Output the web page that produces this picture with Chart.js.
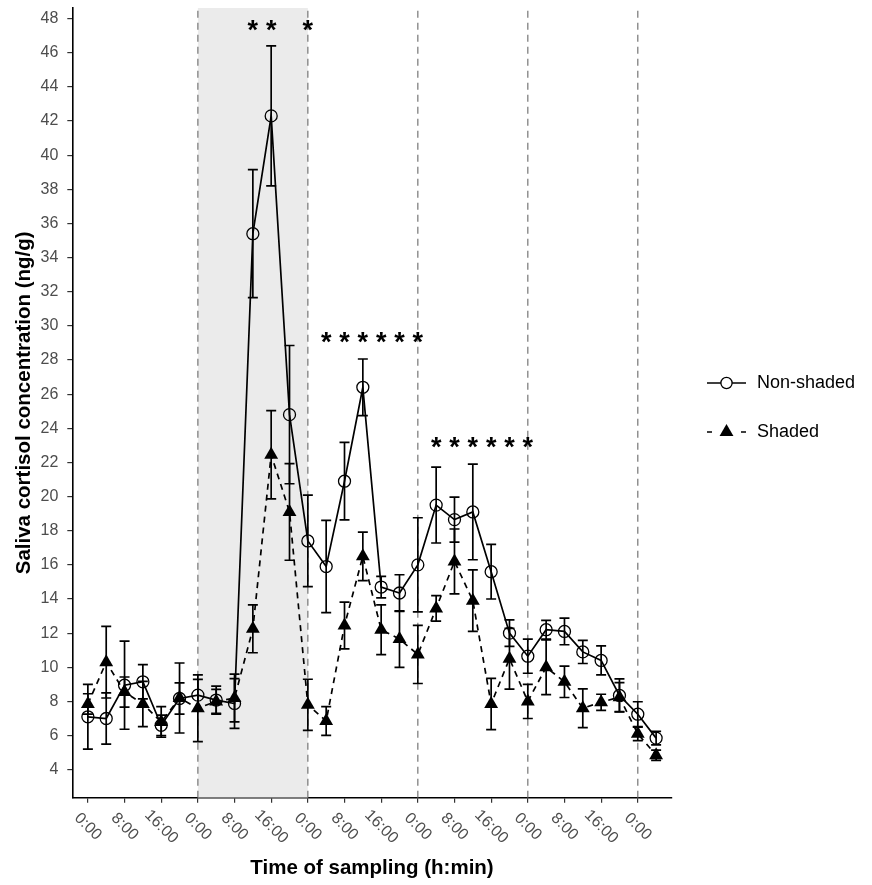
<!DOCTYPE html>
<html>
<head>
<meta charset="utf-8">
<script src="https://cdn.jsdelivr.net/npm/chart.js@4.4.1/dist/chart.umd.min.js"></script>
<style>
html,body{margin:0;padding:0;background:#fff;}
canvas{display:block;}
</style>
</head>
<body>
<canvas id="c" width="872" height="885"></canvas>
<script>
// Sampling times (hours from start of trial)
const hours = [0,4,8,12,16,20,24,28,32,36,40,44,48,52,56,60,64,68,72,76,80,84,88,92,96,100,104,108,112,116,120,124];
// Non-shaded group: mean and SE
const nonShaded   = [7.1,7.0,8.95,9.15,6.6,8.17,8.37,8.08,7.88,35.4,42.3,24.8,17.4,15.9,20.9,26.4,14.7,14.35,16.0,19.5,18.65,19.1,15.6,12.0,10.65,12.2,12.1,10.9,10.4,8.35,7.25,5.85];
const nonShadedSE = [1.9,1.5,2.58,1.0,0.6,0.92,0.92,0.82,1.46,3.75,4.1,4.05,2.68,2.7,2.27,1.66,0.63,1.07,2.76,2.22,1.32,2.8,1.6,0.78,1.0,0.55,0.78,0.68,0.85,0.97,0.73,0.4];
// Shaded group: mean and SE
const shaded   = [7.85,10.3,8.55,7.85,6.8,8.2,7.6,8.0,8.2,12.25,22.45,19.1,7.8,6.85,12.45,16.5,12.2,11.65,10.75,13.45,16.2,13.9,7.85,10.5,8.0,10.0,9.15,7.6,7.95,8.25,6.1,4.85];
const shadedSE = [0.6,2.1,0.88,1.33,0.9,2.05,1.95,0.7,1.4,1.4,2.58,2.83,1.5,0.84,1.37,1.42,1.46,1.65,1.7,0.75,1.9,1.8,1.5,1.78,1.0,1.6,0.92,1.14,0.47,0.85,0.4,0.3];
// Axis ticks
const xTickHours  = [0,8,16,24,32,40,48,56,64,72,80,88,96,104,112,120];
const xTickLabels = ['0:00','8:00','16:00','0:00','8:00','16:00','0:00','8:00','16:00','0:00','8:00','16:00','0:00','8:00','16:00','0:00'];
const yTicks = [4,6,8,10,12,14,16,18,20,22,24,26,28,30,32,34,36,38,40,42,44,46,48];
// Shaded period (hours) and day boundaries
const shadePeriod = [24,48];
const dayLines = [24,48,72,96,120];
// Significance stars: hour and level
const starHours  = [36,40,48, 52,56,60,64,68,72, 76,80,84,88,92,96];
const starLevels = [47.5,47.5,47.5, 29.25,29.25,29.25,29.25,29.25,29.25, 23.1,23.1,23.1,23.1,23.1,23.1];

const FAMILY = '"Liberation Sans", Arial, Helvetica, sans-serif';
Chart.defaults.font.family = FAMILY;

const backPlugin = {
  id:'back',
  beforeDatasetsDraw(chart){
    const {ctx, chartArea:a, scales:{x,y}} = chart;
    ctx.save();
    ctx.beginPath(); ctx.rect(a.left, a.top, a.right-a.left, a.bottom-a.top); ctx.clip();
    const x0 = x.getPixelForValue(shadePeriod[0]), x1 = x.getPixelForValue(shadePeriod[1]);
    ctx.fillStyle = '#ebebeb';
    ctx.fillRect(x0, a.top, x1-x0, a.bottom-a.top);
    ctx.strokeStyle = '#7f7f7f'; ctx.lineWidth = 1.3; ctx.setLineDash([7,5]);
    dayLines.forEach(h=>{
      const px = x.getPixelForValue(h);
      ctx.beginPath(); ctx.moveTo(px, a.bottom); ctx.lineTo(px, a.top); ctx.stroke();
    });
    ctx.setLineDash([]);
    // error bars
    ctx.strokeStyle = '#000'; ctx.lineWidth = 1.7;
    const bars = (means, ses)=>{
      hours.forEach((h,i)=>{
        const px = x.getPixelForValue(h);
        const top = y.getPixelForValue(means[i]+ses[i]);
        const bot = y.getPixelForValue(means[i]-ses[i]);
        ctx.beginPath();
        ctx.moveTo(px, top); ctx.lineTo(px, bot);
        ctx.moveTo(px-5, top); ctx.lineTo(px+5, top);
        ctx.moveTo(px-5, bot); ctx.lineTo(px+5, bot);
        ctx.stroke();
      });
    };
    bars(shaded, shadedSE);
    bars(nonShaded, nonShadedSE);
    ctx.restore();
  }
};

const frontPlugin = {
  id:'front',
  afterDraw(chart){
    const {ctx, chartArea:a, scales:{x,y}} = chart;
    ctx.save();
    // stars
    ctx.fillStyle = '#000';
    ctx.font = 'bold 27px ' + FAMILY;
    ctx.textAlign = 'center'; ctx.textBaseline = 'alphabetic';
    starHours.forEach((h,i)=>{
      ctx.fillText('*', x.getPixelForValue(h), y.getPixelForValue(starLevels[i]) + 12);
    });
    // rotated x tick labels
    ctx.fillStyle = '#4d4d4d';
    ctx.font = '16px ' + FAMILY;
    ctx.textAlign = 'center'; ctx.textBaseline = 'middle';
    xTickHours.forEach((h,i)=>{
      ctx.save();
      ctx.translate(x.getPixelForValue(h), a.bottom + 29);
      ctx.rotate(Math.PI/4);
      ctx.fillText(xTickLabels[i], 0, 0);
      ctx.restore();
    });
    // legend
    const lx0 = 707, lx1 = 746, mx = 726.5;
    const ly1 = 383, ly2 = 432;
    ctx.strokeStyle = '#000'; ctx.lineWidth = 1.6;
    ctx.beginPath(); ctx.moveTo(lx0, ly1); ctx.lineTo(lx1, ly1); ctx.stroke();
    ctx.beginPath(); ctx.arc(mx, ly1, 5.6, 0, Math.PI*2); ctx.fillStyle='#fff'; ctx.fill(); ctx.lineWidth=1.3; ctx.stroke();
    ctx.lineWidth = 1.6;
    ctx.beginPath(); ctx.moveTo(lx0, ly2); ctx.lineTo(lx0+5, ly2); ctx.moveTo(lx1-5, ly2); ctx.lineTo(lx1, ly2); ctx.stroke();
    const r = 8;
    ctx.fillStyle = '#000';
    ctx.beginPath();
    ctx.moveTo(mx, ly2 - r);
    ctx.lineTo(mx + r*Math.cos(Math.PI/6), ly2 + r*0.5);
    ctx.lineTo(mx - r*Math.cos(Math.PI/6), ly2 + r*0.5);
    ctx.closePath(); ctx.fill();
    ctx.font = '18px ' + FAMILY;
    ctx.textAlign = 'left'; ctx.textBaseline = 'middle';
    ctx.fillStyle = '#000';
    ctx.fillText(chart.data.datasets[0].label, 757, ly1);
    ctx.fillText(chart.data.datasets[1].label, 757, ly2);
    ctx.restore();
  }
};

new Chart(document.getElementById('c'), {
  type:'line',
  data:{
    datasets:[
      {
        label:'Non-shaded',
        data: hours.map((h,i)=>({x:h, y:nonShaded[i]})),
        borderColor:'#000', borderWidth:1.7, tension:0,
        pointStyle:'circle', pointRadius:6, pointBorderWidth:1.3,
        pointBackgroundColor:'rgba(255,255,255,0)', pointBorderColor:'#000',
        order:1
      },
      {
        label:'Shaded',
        data: hours.map((h,i)=>({x:h, y:shaded[i]})),
        borderColor:'#000', borderWidth:1.7, borderDash:[6,5], tension:0,
        pointStyle:'triangle', pointRadius:8, pointBorderWidth:0,
        pointBackgroundColor:'#000', pointBorderColor:'#000',
        order:2
      }
    ]
  },
  options:{
    responsive:false, animation:false, devicePixelRatio:1,
    layout:{padding:{top:6.7, right:200.3, left:0, bottom:0}},
    plugins:{legend:{display:false}, tooltip:{enabled:false}},
    scales:{
      x:{
        type:'linear', min:-3.4, max:127.4,
        afterBuildTicks: s => { s.ticks = xTickHours.map(v=>({value:v})); },
        afterFit: s => { s.height = 87.3; s.paddingLeft = 0; s.paddingRight = 0; },
        ticks:{display:false},
        grid:{drawOnChartArea:false, drawTicks:true, tickLength:5, color:'#333', lineWidth:1.2},
        border:{display:true, color:'#000', width:1.6},
        title:{display:true, text:'Time of sampling (h:min)', color:'#000',
               font:{size:20.5, weight:'bold', family:FAMILY}, padding:{top:0, bottom:4}}
      },
      y:{
        type:'linear', min:2.36, max:48.62,
        afterBuildTicks: s => { s.ticks = yTicks.map(v=>({value:v})); },
        afterFit: s => { s.width = 72.3; s.paddingTop = 0; s.paddingBottom = 0; },
        ticks:{color:'#4d4d4d', font:{size:16, family:FAMILY}, padding:9},
        grid:{drawOnChartArea:false, drawTicks:true, tickLength:5, color:'#333', lineWidth:1.2},
        border:{display:true, color:'#000', width:1.6},
        title:{display:true, text:'Saliva cortisol concentration (ng/g)', color:'#000',
               font:{size:20.5, weight:'bold', family:FAMILY}, padding:{top:12, bottom:0}}
      }
    }
  },
  plugins:[backPlugin, frontPlugin]
});
</script>
</body>
</html>
